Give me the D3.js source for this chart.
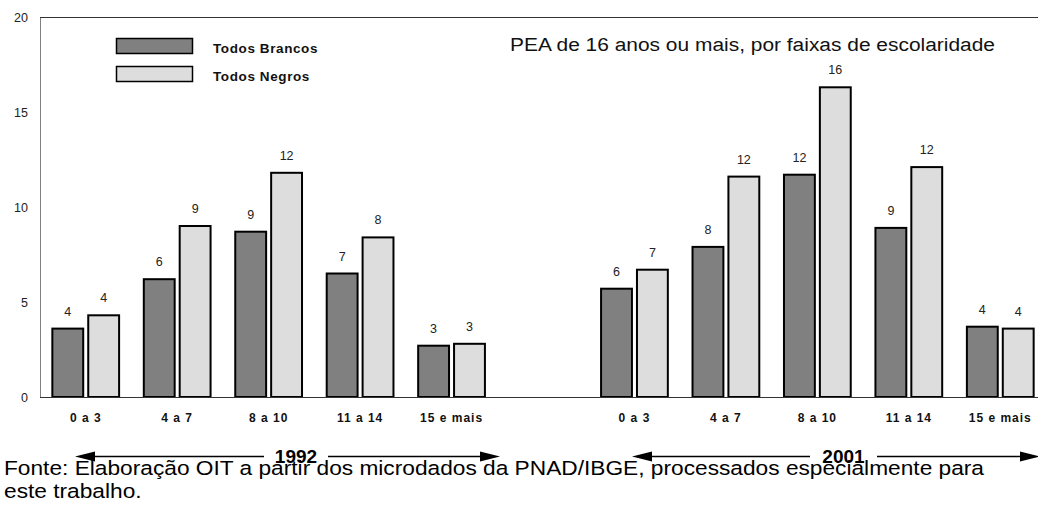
<!DOCTYPE html>
<html>
<head>
<meta charset="utf-8">
<script src="https://cdn.jsdelivr.net/npm/d3@7"></script>
<style>
  body { margin: 0; background: #fff; }
  text { font-family: Arial, "Liberation Sans", sans-serif; }
</style>
</head>
<body>
<div id="chart"></div>
<script>
// data
const categories = ['0 a 3', '4 a 7', '8 a 10', '11 a 14', '15 e mais'];
const years = ['1992', '2001'];
const seriesNames = ['Todos Brancos', 'Todos Negros'];
const brancos1992 = [3.6, 6.2, 8.7, 6.5, 2.7];
const negros1992 = [4.3, 9.0, 11.8, 8.4, 2.8];
const brancos2001 = [5.7, 7.9, 11.7, 8.9, 3.7];
const negros2001 = [6.7, 11.6, 16.3, 12.1, 3.6];
const yTicks = [0, 5, 10, 15, 20];
const titleText = 'PEA de 16 anos ou mais, por faixas de escolaridade';
const sourceLines = ['Fonte: Elaboração OIT a partir dos microdados da PNAD/IBGE, processados especialmente para', 'este trabalho.'];

const width = 1038, height = 510;
const colors = ['#808080', '#dddddd'];

// one slot per category, with an empty slot between the two years
const slots = [...categories.map(c => '1992|' + c), 'gap', ...categories.map(c => '2001|' + c)];
const rows = [];
years.forEach((yr, yi) => {
    const b = yi === 0 ? brancos1992 : brancos2001;
    const n = yi === 0 ? negros1992 : negros2001;
    categories.forEach((c, i) => {
        rows.push({slot: yr + '|' + c, series: seriesNames[0], value: b[i]});
        rows.push({slot: yr + '|' + c, series: seriesNames[1], value: n[i]});
    });
});

const svg = d3.select('#chart').append('svg')
    .attr('width', width)
    .attr('height', height);

const x0 = d3.scaleBand()
    .domain(slots)
    .range([40, 1046])
    .paddingInner(0.27)
    .paddingOuter(0.135);
const x1 = d3.scaleBand()
    .domain(seriesNames)
    .range([0, x0.bandwidth()])
    .paddingInner(0.14);
const y = d3.scaleLinear()
    .domain([0, 20])
    .range([397, 17]);
const c = d3.scaleOrdinal().domain(seriesNames).range(colors);

// y axis
svg.append('g')
    .attr('transform', 'translate(40,0)')
    .call(d3.axisLeft(y).tickValues(yTicks).tickSize(0).tickPadding(12))
    .call(g => g.select('.domain').attr('stroke', '#808080'))
    .call(g => g.selectAll('text')
        .attr('font-size', 12.5)
        .attr('font-family', 'Arial, "Liberation Sans", sans-serif')
        .attr('fill', '#222'));

// top frame line
svg.append('line')
    .attr('x1', 40).attr('x2', width)
    .attr('y1', y(20) + 0.5).attr('y2', y(20) + 0.5)
    .attr('stroke', '#333');

// bars
svg.append('g')
    .selectAll('rect')
    .data(rows)
    .join('rect')
    .attr('x', d => x0(d.slot) + x1(d.series))
    .attr('y', d => y(d.value))
    .attr('width', x1.bandwidth())
    .attr('height', d => y(0) - y(d.value))
    .attr('fill', d => c(d.series))
    .attr('stroke', '#000')
    .attr('stroke-width', 2);

// value labels
svg.append('g')
    .selectAll('text')
    .data(rows)
    .join('text')
    .attr('x', d => x0(d.slot) + x1(d.series) + x1.bandwidth() / 2)
    .attr('y', d => y(d.value) - 13)
    .attr('text-anchor', 'middle')
    .attr('font-size', 12.5)
    .attr('fill', '#222')
    .text(d => Math.round(d.value));

// x axis with category labels
svg.append('g')
    .attr('transform', `translate(0,${y(0)})`)
    .call(d3.axisBottom(x0).tickSize(0).tickPadding(16).tickFormat(d => d.split('|')[1] || ''))
    .call(g => g.select('.domain').remove())
    .call(g => g.selectAll('text')
        .attr('font-size', 12)
        .attr('font-weight', 'bold')
        .attr('letter-spacing', 1)
        .attr('font-family', 'Arial, "Liberation Sans", sans-serif')
        .attr('fill', '#111'));
svg.append('line')
    .attr('x1', 40).attr('x2', width)
    .attr('y1', y(0) + 0.5).attr('y2', y(0) + 0.5)
    .attr('stroke', '#333');

// legend
const legend = svg.append('g');
seriesNames.forEach((s, i) => {
    legend.append('rect')
        .attr('x', 116.5)
        .attr('y', 38.5 + i * 28)
        .attr('width', 76)
        .attr('height', 15)
        .attr('fill', c(s))
        .attr('stroke', '#000')
        .attr('stroke-width', 1.5);
    legend.append('text')
        .attr('x', 213)
        .attr('y', 53 + i * 28)
        .attr('font-size', 13.5)
        .attr('font-weight', 'bold')
        .attr('letter-spacing', 0.6)
        .attr('fill', '#111')
        .text(s);
});

// title
svg.append('text')
    .attr('x', 510)
    .attr('y', 51)
    .attr('font-size', 18)
    .attr('fill', '#111')
    .attr('textLength', 485)
    .attr('lengthAdjust', 'spacingAndGlyphs')
    .text(titleText);

// year arrows
const arrows = [
    {year: years[0], x1: 75, x2: 500, gap: [264, 328]},
    {year: years[1], x1: 632, x2: 1040, gap: [810, 877]}
];
const ay = 456.5;
arrows.forEach(a => {
    const g = svg.append('g');
    g.append('line').attr('x1', a.x1 + 15).attr('x2', a.gap[0]).attr('y1', ay).attr('y2', ay)
        .attr('stroke', '#000').attr('stroke-width', 1.5);
    g.append('line').attr('x1', a.gap[1]).attr('x2', a.x2 - 15).attr('y1', ay).attr('y2', ay)
        .attr('stroke', '#000').attr('stroke-width', 1.5);
    g.append('path')
        .attr('d', `M${a.x1},${ay} L${a.x1 + 20},${ay - 5} L${a.x1 + 20},${ay + 5} Z`)
        .attr('fill', '#000');
    g.append('path')
        .attr('d', `M${a.x2},${ay} L${a.x2 - 20},${ay - 5} L${a.x2 - 20},${ay + 5} Z`)
        .attr('fill', '#000');
    g.append('text')
        .attr('x', (a.gap[0] + a.gap[1]) / 2)
        .attr('y', ay + 6)
        .attr('text-anchor', 'middle')
        .attr('font-size', 19)
        .attr('font-weight', 'bold')
        .attr('fill', '#000')
        .text(a.year);
});

// source note
const src = svg.append('g');
const l1 = src.append('text')
    .attr('x', 4)
    .attr('y', 475)
    .attr('font-size', 20.5)
    .attr('fill', '#000')
    .text(sourceLines[0]);
const natural = l1.node().getComputedTextLength();
const stretch = 980 / natural;
l1.attr('textLength', 980).attr('lengthAdjust', 'spacingAndGlyphs');
const l2 = src.append('text')
    .attr('x', 4)
    .attr('y', 498)
    .attr('font-size', 20.5)
    .attr('fill', '#000')
    .text(sourceLines[1]);
l2.attr('textLength', l2.node().getComputedTextLength() * stretch).attr('lengthAdjust', 'spacingAndGlyphs');
</script>
</body>
</html>
